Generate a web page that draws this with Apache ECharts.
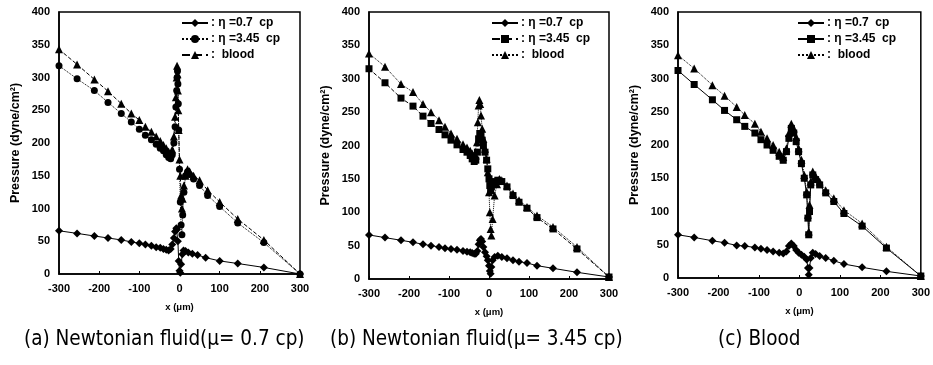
<!DOCTYPE html>
<html><head><meta charset="utf-8">
<script src="https://cdn.jsdelivr.net/npm/echarts@6/dist/echarts.min.js"></script>
<style>html,body{margin:0;padding:0;background:#fff}#c{width:933px;height:365px}</style>
</head><body><div id="c"></div>
<script>
// ---- chart (a) Newtonian fluid mu=0.7 cp ----
const xA_07 = [-300,-255,-212,-178,-145,-120,-100,-85,-70,-58,-48,-40,-33,-27,-22,-18,-14,-11,-8,-6,-4,-2,0,2,4,7,10,15,22,32,45,65,100,145,210,300];
const yA_07 = [66,62,58,55,52,49,47,45,43,41,40,38,37,36,38,45,55,65,70,68,50,20,5,2,15,30,36,35,33,31,29,25,20,16,10,0];
const xA_345 = [-300,-255,-212,-178,-145,-120,-100,-85,-70,-58,-48,-40,-33,-27,-22,-18,-14,-11,-9,-7,-6,-5,-4,-3,-2,0,2,4,6,8,11,15,20,25,35,50,70,100,145,210,300];
const yA_345 = [318,298,280,262,245,232,221,212,205,198,192,188,182,178,176,182,200,225,255,280,300,310,290,260,220,160,110,75,60,90,125,150,156,152,145,135,120,103,78,48,0];
const xA_bl = [-300,-255,-212,-178,-145,-120,-100,-85,-70,-58,-48,-40,-33,-27,-22,-18,-14,-11,-9,-7,-6,-5,-4,-3,-2,0,2,4,6,8,11,15,20,25,35,50,70,100,145,210,300];
const yA_bl = [343,320,297,279,260,245,235,225,217,210,203,197,192,187,183,190,210,240,270,300,318,305,280,250,220,175,150,120,100,115,135,150,160,157,150,143,128,110,84,52,0];
// ---- chart (b) Newtonian fluid mu=3.45 cp ----
const xB_07 = [-300,-260,-220,-190,-165,-145,-125,-110,-95,-80,-65,-55,-47,-42,-37,-33,-29,-26,-23,-20,-17,-14,-10,-6,-3,0,2,4,6,9,14,22,32,45,60,75,95,120,160,220,300];
const yB_07 = [66,62,58,55,52,50,48,46,45,44,42,41,40,39,38,38,42,52,58,60,56,48,40,34,28,20,12,8,18,28,33,35,33,31,28,26,24,20,16,10,3];
const xB_345 = [-300,-260,-220,-190,-165,-145,-125,-110,-95,-80,-65,-55,-47,-42,-37,-33,-29,-26,-23,-20,-17,-14,-10,-6,-3,0,2,4,6,9,14,22,32,45,60,75,95,120,160,220,300];
const yB_345 = [315,294,271,259,244,233,224,216,208,201,194,190,185,180,176,178,190,210,218,215,208,200,190,178,165,150,140,132,138,143,146,148,146,138,125,115,106,92,75,45,3];
const xB_bl = [-300,-260,-220,-190,-165,-145,-125,-110,-95,-80,-65,-55,-47,-42,-37,-33,-30,-28,-26,-24,-22,-20,-17,-14,-10,-6,-3,0,2,4,6,9,14,20,26,32,45,60,75,95,120,160,220,300];
const yB_bl = [338,318,292,280,262,250,238,228,218,210,202,197,192,188,183,185,205,235,260,268,262,245,225,210,195,180,160,130,100,75,65,90,125,142,150,148,140,128,118,108,95,78,48,3];
// ---- chart (c) Blood ----
const xC_07 = [-300,-260,-215,-185,-155,-135,-110,-95,-80,-65,-50,-40,-32,-26,-20,-14,-8,-2,5,12,18,21,23,25,28,33,40,50,65,85,110,155,215,300];
const yC_07 = [65,61,56,53,49,48,46,44,42,40,38,37,40,48,52,48,42,38,35,32,28,15,5,15,30,38,36,33,30,26,21,16,10,3];
const xC_345 = [-300,-260,-215,-185,-155,-135,-110,-95,-80,-65,-50,-40,-32,-26,-20,-14,-8,-2,5,12,18,21,23,25,28,33,40,50,65,85,110,155,215,300];
const yC_345 = [312,291,268,252,238,228,218,208,200,192,183,177,190,210,225,218,205,190,172,150,125,90,65,100,140,155,148,140,128,115,97,78,45,3];
const xC_bl = [-300,-260,-215,-185,-155,-135,-110,-95,-80,-65,-50,-40,-32,-26,-20,-14,-8,-2,5,12,18,21,23,25,28,33,40,50,65,85,110,155,215,300];
const yC_bl = [335,315,290,274,257,245,232,220,210,200,190,182,195,218,232,225,212,195,178,155,130,95,70,110,145,160,153,145,132,120,102,82,47,3];

const yTicks = [0,50,100,150,200,250,300,350,400];
const xTicks = [-300,-200,-100,0,100,200,300];
const legendLabels = [': \u03b7 =0.7  cp', ': \u03b7 =3.45  cp', ':  blood'];
const captions = ['(a) Newtonian fluid(\u03bc= 0.7 cp)', '(b) Newtonian fluid(\u03bc= 3.45 cp)', '(c) Blood'];

const zip = (xs, ys) => xs.map((x, i) => [x, ys[i]]);
const FONT = 'Liberation Sans';
const grids = [
  {left: 59, top: 12, width: 241, height: 262},
  {left: 369, top: 12, width: 240, height: 267},
  {left: 678, top: 12, width: 243, height: 266}
];
const legendLeft = [176, 486, 792];
const panels = [
  [[xA_07, yA_07, 'diamond', 8, 'solid'], [xA_345, yA_345, 'circle', 7, 'dotted'], [xA_bl, yA_bl, 'triangle', 8, 'dashed']],
  [[xB_07, yB_07, 'diamond', 8, 'solid'], [xB_345, yB_345, 'rect', 7, 'dashed'], [xB_bl, yB_bl, 'triangle', 8, 'dotted']],
  [[xC_07, yC_07, 'diamond', 8, 'solid'], [xC_345, yC_345, 'rect', 7, 'solid'], [xC_bl, yC_bl, 'triangle', 8, 'dotted']]
];

const option = {
  animation: false,
  backgroundColor: '#fff',
  grid: grids.map(g => Object.assign({show: true, borderColor: '#000', borderWidth: 1.5, backgroundColor: 'transparent'}, g)),
  xAxis: grids.map((g, i) => ({
    type: 'value', gridIndex: i, min: -300, max: 300, interval: 100,
    name: 'x (\u03bcm)', nameLocation: 'middle', nameGap: 28,
    nameTextStyle: {fontFamily: FONT, fontWeight: 'bold', fontSize: 9.5, color: '#000'},
    axisLine: {show: true, onZero: false, lineStyle: {color: '#000', width: 1.5}},
    axisTick: {show: true, inside: true, length: 3, lineStyle: {color: '#000'}},
    axisLabel: {fontFamily: FONT, fontWeight: 'bold', fontSize: 11, color: '#000', margin: 9},
    splitLine: {show: false}
  })),
  yAxis: grids.map((g, i) => ({
    type: 'value', gridIndex: i, min: 0, max: 400, interval: 50,
    name: 'Pressure (dyne/cm\u00b2)', nameLocation: 'middle', nameGap: 37, nameRotate: 90,
    nameTextStyle: {fontFamily: FONT, fontWeight: 'bold', fontSize: 12.5, color: '#000'},
    axisLine: {show: true, onZero: false, lineStyle: {color: '#000', width: 1.5}},
    axisTick: {show: false},
    axisLabel: {fontFamily: FONT, fontWeight: 'bold', fontSize: 11, color: '#000', margin: 9},
    splitLine: {show: false}
  })),
  legend: panels.map((p, i) => ({
    orient: 'vertical', left: legendLeft[i], top: 12, itemGap: 4, itemWidth: 26, itemHeight: 10,
    data: ['p' + i + 's0', 'p' + i + 's1', 'p' + i + 's2'],
    formatter: name => legendLabels[+name.slice(3)],
    textStyle: {fontFamily: FONT, fontWeight: 'bold', fontSize: 12, color: '#000', padding: [0,0,0,-2]},
    selectedMode: false
  })),
  series: [],
  graphic: captions.map((t, i) => ({
    type: 'text', left: [24, 330, 718][i], top: 329,
    style: {text: t, fontFamily: 'DejaVu Sans Condensed', fontSize: 20.5, fill: '#000'}
  }))
};
panels.forEach((p, i) => {
  p.forEach((s, j) => {
    option.series.push({
      type: 'line', name: 'p' + i + 's' + j, xAxisIndex: i, yAxisIndex: i,
      data: zip(s[0], s[1]), symbol: s[2], symbolSize: s[3], showSymbol: true,
      lineStyle: {color: '#000', width: 1, type: s[4]},
      itemStyle: {color: '#000'}, z: 3 - j
    });
  });
});
echarts.init(document.getElementById('c')).setOption(option);
</script></body></html>
